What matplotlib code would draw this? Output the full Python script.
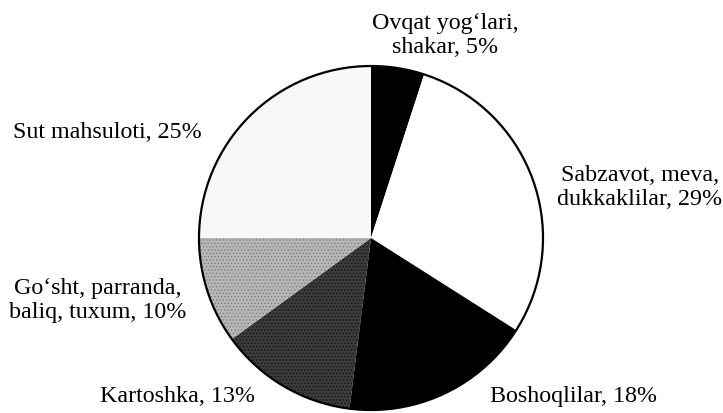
import matplotlib
matplotlib.use("Agg")
import matplotlib.pyplot as plt
from matplotlib.patches import Circle

plt.rcParams['font.family'] = ['Liberation Serif', 'DejaVu Serif']
plt.rcParams['hatch.linewidth'] = 0.6

# Data (clockwise from 12 o'clock)
categories = ["Ovqat yog\u2018lari,\nshakar", "Sabzavot, meva,\ndukkaklilar", "Boshoqlilar",
              "Kartoshka", "Go\u2018sht, parranda,\nbaliq, tuxum", "Sut mahsuloti"]
values = [5, 29, 18, 13, 10, 25]
face_colors = ["#000000", "#ffffff", "#000000", "#3c3c3c", "#b8b8b8", "#f7f7f7"]
hatch_colors = ["#000000", "#ffffff", "#000000", "#151515", "#7a7a7a", "#f7f7f7"]
hatches = [None, None, None, ".....", ".....", None]

W, H = 723, 413
fig = plt.figure(figsize=(W / 100, H / 100), dpi=100)
ax = fig.add_axes([0, 0, 1, 1])

cx, cy, r = 371, H - 238, 172
wedges, _ = ax.pie(values, startangle=90, counterclock=False, center=(cx, cy), radius=r,
                   colors=face_colors, frame=True,
                   wedgeprops=dict(linewidth=0))
for w, hc, h in zip(wedges, hatch_colors, hatches):
    w.set_edgecolor(hc)
    if h:
        w.set_hatch(h)
ax.add_patch(Circle((cx, cy), r, fill=False, edgecolor="black", linewidth=1.6))

# Labels: (lines, x center, baselines in pixel rows from top)
label_specs = [
    (["Ovqat yog\u2018lari,", "shakar, 5%"], 445, [29, 53]),
    (["Sabzavot, meva,", "dukkaklilar, 29%"], 640, [181, 205]),
    (["Boshoqlilar, 18%"], 574, [402]),
    (["Kartoshka, 13%"], 178, [402]),
    (["Go\u2018sht, parranda,", "baliq, tuxum, 10%"], 98, [294, 318]),
    (["Sut mahsuloti, 25%"], 107, [138]),
]
for lines, x, ys in label_specs:
    for line, y in zip(lines, ys):
        ax.text(x, H - y, line, ha="center", va="baseline", fontsize=17.3, color="black")

ax.set_xlim(0, W)
ax.set_ylim(0, H)
ax.set_aspect("equal")
ax.axis("off")
fig.savefig("out.png", dpi=100, facecolor="white")
